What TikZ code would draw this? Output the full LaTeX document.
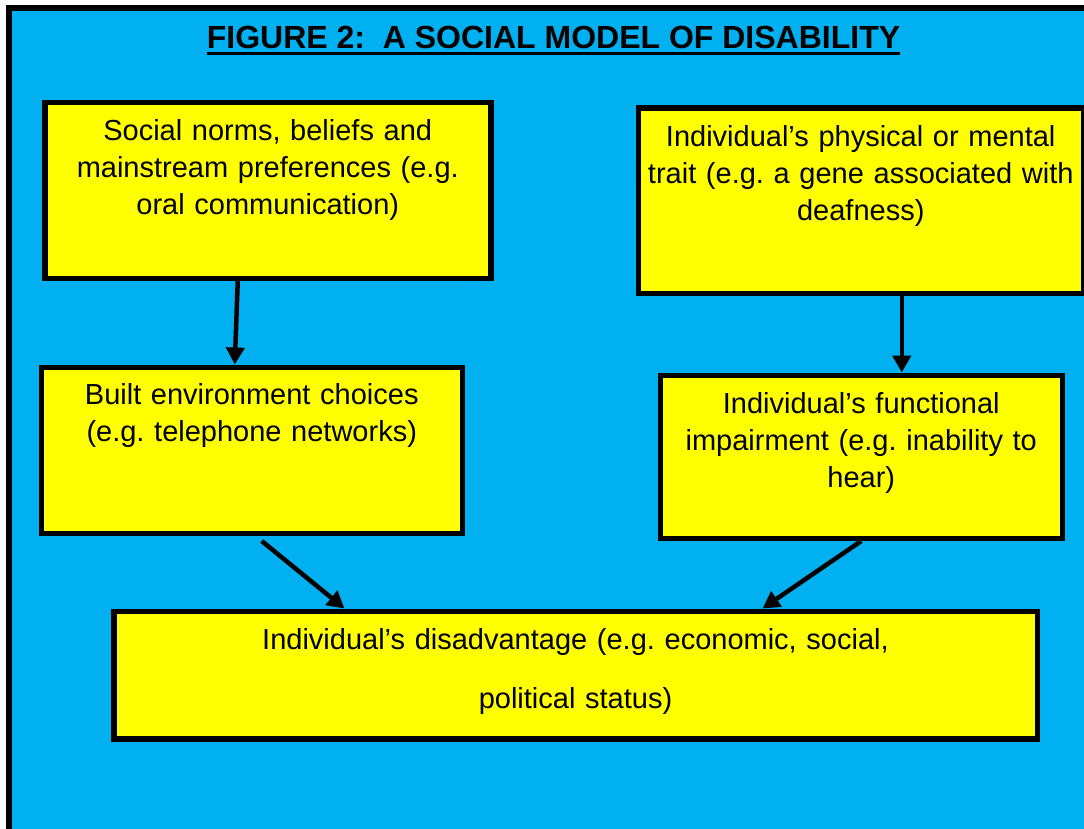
\documentclass[tikz,border=0pt]{standalone}
\usepackage{fontspec}
\setmainfont{Liberation Sans}
\usetikzlibrary{arrows.meta}
\definecolor{skyfill}{HTML}{00B0F0}
\definecolor{boxfill}{HTML}{FFFF00}
\newcommand{\ulined}[1]{\setbox0\hbox{#1}\rlap{\rule[-6pt]{\wd0}{3pt}}\box0}
\frenchspacing

\begin{document}
\begin{tikzpicture}[x=1pt, y=-1pt,
  box/.style={draw=black, fill=boxfill, line width=5.5pt, inner sep=0pt, anchor=north west, align=center, text height=38.5pt, font=\fontsize{29}{37}\selectfont},
  flow/.style={line width=4.5pt, -{Triangle[length=17pt, width=18pt]}}]

\useasboundingbox (0,0) rectangle (1084,829);
\clip (0,0) rectangle (1084,829);
\fill[white] (0,0) rectangle (1084,829);
\draw[fill=skyfill, line width=5.5pt] (9,8) rectangle (1110,860);

\node (title) [anchor=base, font=\bfseries\fontsize{32}{38}\selectfont] at (553.5,49) {\ulined{FIGURE 2:\ \ A SOCIAL MODEL OF DISABILITY}};

\node (norms) [box, text width=446pt, text height=38pt, text depth=137.5pt] at (42,100) {Social norms, beliefs and\\ mainstream preferences (e.g.\\ oral communication)};
\node (trait) [box, text width=445pt, text depth=146.5pt] at (635.5,105.5) {Individual’s physical or mental\\ trait (e.g. a gene associated with\\ deafness)};
\node (built) [box, text width=421pt, text height=37pt, text depth=129pt] at (38.5,364.5) {Built environment choices\\ (e.g. telephone networks)};
\node (impair) [box, text width=402pt, text depth=124.5pt] at (657.5,372.5) {Individual’s functional\\ impairment (e.g. inability to\\ hear)};
\node (disadv) [box, text width=923.5pt, text depth=89pt] at (111,608.5) {Individual’s disadvantage (e.g. economic, social,\\[22pt] political status)};

\foreach \a/\ax/\ay/\b/\bx in {norms/-30/0/built/-17, trait/41/0/impair/40.5, built/10/-5/disadv/-231, impair/0/0/disadv/187}
\draw[flow] ([xshift=\ax pt, yshift=\ay pt]\a.south) -- ([xshift=\bx pt]\b.north);

\end{tikzpicture}
\end{document}
